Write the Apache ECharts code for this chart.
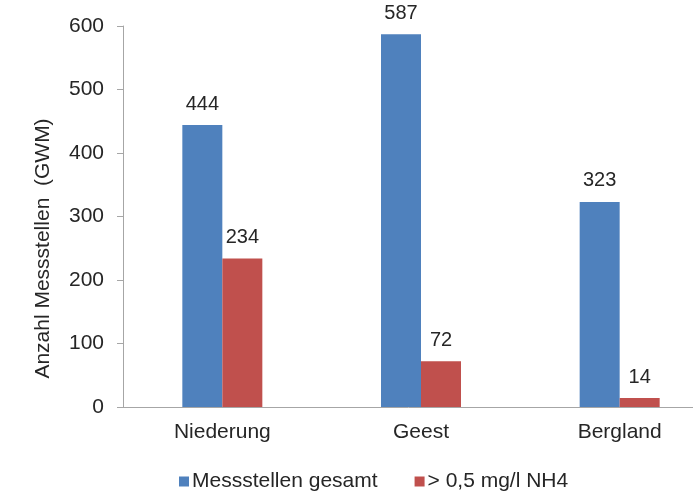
<!DOCTYPE html>
<html>
<head>
<meta charset="utf-8">
<script src="https://cdn.jsdelivr.net/npm/echarts@6/dist/echarts.min.js"></script>
<style>
  html, body { margin: 0; padding: 0; background: #fff; }
  #chart { width: 693px; height: 491px; }
</style>
</head>
<body>
<div id="chart"></div>
<script>
// Regions and counts of groundwater monitoring wells
const categories = ['Niederung', 'Geest', 'Bergland'];
const seriesNames = ['Messstellen gesamt', '> 0,5 mg/l NH4'];
const totalWells = [444, 587, 323];
const ammoniumWells = [234, 72, 14];
const yTicks = [0, 100, 200, 300, 400, 500, 600];

const FONT = '"Liberation Sans", Arial, sans-serif';
const TEXT = '#262626';

const chart = echarts.init(document.getElementById('chart'), null, { renderer: 'canvas' });

const labelStyle = {
  show: true,
  position: 'top',
  distance: 11,
  color: TEXT,
  fontSize: 20,
  fontFamily: FONT
};

chart.setOption({
  animation: false,
  backgroundColor: '#ffffff',
  // the category band runs past the right edge of the canvas
  grid: { left: 123, top: 26, width: 596, height: 381, containLabel: false, outerBoundsMode: 'none' },
  legend: {
    top: 471,
    left: 179,
    padding: 0,
    itemWidth: 10,
    itemHeight: 10,
    itemGap: 37,
    icon: 'rect',
    textStyle: { color: TEXT, fontSize: 21, fontFamily: FONT, padding: [0, 0, 0, -2] },
    data: seriesNames
  },
  xAxis: {
    type: 'category',
    data: categories,
    axisLine: { lineStyle: { color: '#a6a6a6', width: 1 } },
    axisTick: { show: false },
    axisLabel: { color: TEXT, fontSize: 21, fontFamily: FONT, margin: 15 }
  },
  yAxis: {
    type: 'value',
    min: yTicks[0],
    max: yTicks[yTicks.length - 1],
    interval: 100,
    name: 'Anzahl Messstellen  (GWM)',
    nameLocation: 'middle',
    nameGap: 69,
    nameRotate: 90,
    nameTextStyle: { color: TEXT, fontSize: 21, fontFamily: FONT, padding: [0, 64, 0, 0] },
    axisLine: { show: true, lineStyle: { color: '#a6a6a6', width: 1 } },
    axisTick: { show: true, length: 6, lineStyle: { color: '#a6a6a6' } },
    splitLine: { show: false },
    axisLabel: { color: TEXT, fontSize: 21, fontFamily: FONT, margin: 19 }
  },
  series: [
    {
      name: seriesNames[0],
      type: 'bar',
      data: totalWells,
      barWidth: 40,
      barGap: '0%',
      itemStyle: { color: '#4f81bd' },
      label: labelStyle
    },
    {
      name: seriesNames[1],
      type: 'bar',
      data: ammoniumWells,
      barWidth: 40,
      itemStyle: { color: '#c0504d' },
      label: labelStyle
    }
  ]
});
</script>
</body>
</html>
